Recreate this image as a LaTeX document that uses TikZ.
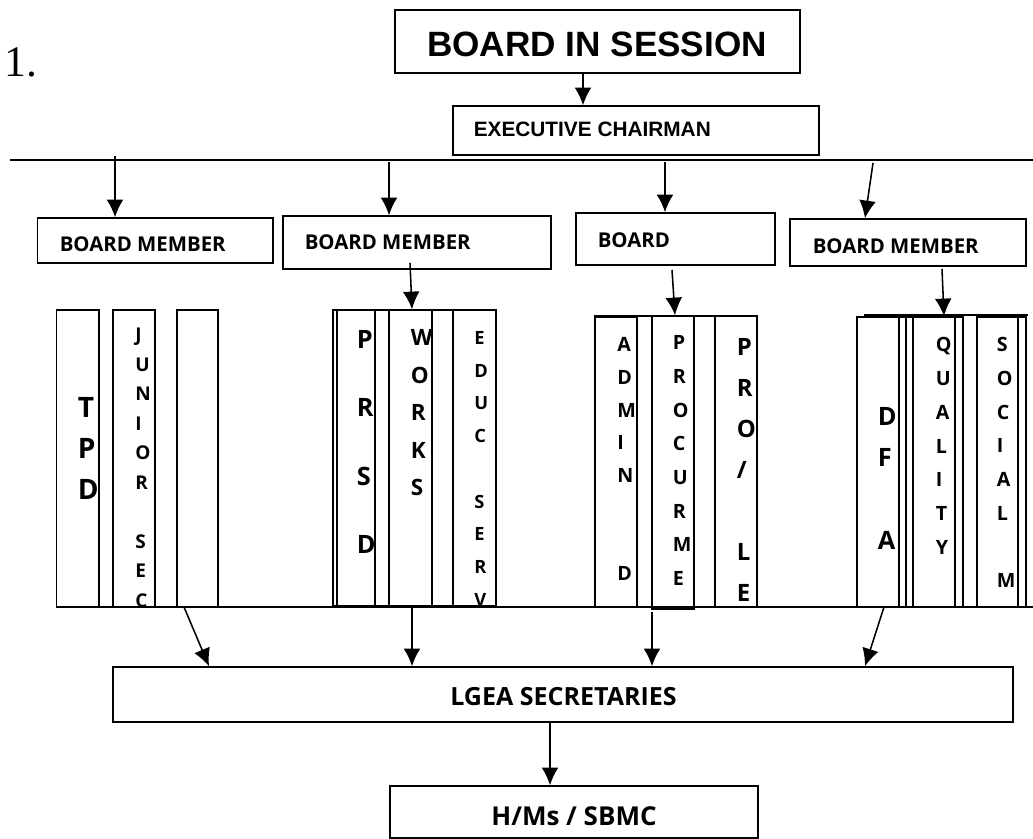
\documentclass[tikz,border=0pt]{standalone}
\usepackage{fontspec}
\setmainfont{Open Sans}
\newfontfamily\arialfont{Liberation Sans}
\newfontfamily\timesfont{Liberation Serif}
\usepackage{tikz}
\usetikzlibrary{arrows.meta,calc,fit}

\begin{document}
\begin{tikzpicture}[x=0.025cm, y=-0.025cm, line width=1.1pt,
    box/.style={draw, rectangle, inner sep=0pt},
    freccia/.style={-{Latex[length=0.44cm, width=0.42cm]}},
    testo/.style={anchor=base west, inner sep=0pt, font=\bfseries\fontsize{14.5}{14.5}\selectfont},
    lettera/.style={anchor=base west, inner sep=0pt, font=\bfseries\fontsize{#1}{#1}\selectfont}]

    \useasboundingbox (0,0) rectangle (1033,839);

    \node[anchor=base west, inner sep=0pt, font=\timesfont\fontsize{31}{31}\selectfont] (num) at (4,77) {1.};

    \node[box, fit={(395,10) (800,73)}] (bis) {};
    \node[anchor=base, inner sep=0pt, font=\arialfont\bfseries\fontsize{25}{25}\selectfont] (bis-t) at (597,57) {BOARD IN SESSION};
    \node[box, fit={(453,106) (819,155)}] (exe) {};
    \node[anchor=base west, inner sep=0pt, font=\arialfont\bfseries\fontsize{14.8}{14.8}\selectfont] (exe-t) at (473,137) {EXECUTIVE CHAIRMAN};

    \coordinate (c0) at (583,0);
    \draw[freccia] (c0 |- bis.south) -- (c0 |- exe.north);

    % linea dei membri
    \coordinate (l0) at (10,160);
    \coordinate (l1) at (1033,160);
    \draw (l0) -- (l1);

    \node[box, fit={(37.5,218) (273,263)}] (bm1) {};
    \node[testo] (bm1-t) at (59,252) {BOARD MEMBER};
    \node[box, fit={(283,216) (551,269)}] (bm2) {};
    \node[testo] (bm2-t) at (304,250) {BOARD MEMBER};
    \node[box, fit={(576,213) (775,265)}] (bm3) {};
    \node[testo] (bm3-t) at (597,248) {BOARD};
    \node[box, fit={(790,219) (1026,266)}] (bm4) {};
    \node[testo] (bm4-t) at (812,254) {BOARD MEMBER};

    \coordinate (t1) at (115,156);
    \coordinate (t2) at (389,162);
    \coordinate (t3) at (665,162);
    \coordinate (t4) at (873,163);
    \coordinate (h4) at (865,0);
    \draw[freccia] (t1) -- (t1 |- bm1.north);
    \draw[freccia] (t2) -- (t2 |- bm2.north);
    \draw[freccia] (t3) -- (t3 |- bm3.north);
    \draw[freccia] (t4) -- (h4 |- bm4.north);

    % colonne
    \node[box, fit={(56.7,310) (99,607)}] (tpd) {};
    \node[box, fit={(113,310) (155,607)}] (jun) {};
    \node[box, fit={(177,310) (218,607)}] (vuota) {};

    \draw (333,310) rectangle (496,606);
    \node[box, fit={(337,310) (375,606)}] (prsd) {};
    \node[box, fit={(389,310) (432,606)}] (works) {};
    \node[box, fit={(453,310) (496,606)}] (edu) {};

    \draw (595,316) rectangle (757,607);
    \node[box, fit={(595,317) (637,607)}] (adm) {};
    \node[box, fit={(652,316) (694,609)}] (proc) {};
    \node[box, fit={(715,316) (757,607)}] (prole) {};

    \draw (864,315) -- (1028,315);
    \node[box, fit={(857,317) (899,607)}] (dfa) {};
    \draw (899,317) rectangle (906,607);
    \draw (906,317) rectangle (913,607);
    \node[box, fit={(913,317) (955,607)}] (qual) {};
    \draw (955,317) rectangle (963,607);
    \node[box, fit={(977,317) (1018,607)}] (soc) {};
    \draw (1018,317) rectangle (1026,607);

    \foreach \l [count=\i from 0] in {T,P,D}
        \node[lettera=20] (tpd-\i) at (77,{408+41*\i+10}) {\l};
    \begin{scope}
        \clip (113,310) rectangle (155,607);
        \foreach \l [count=\i from 0] in {J,U,N,I,O,R,{},S,E,C}
            \node[lettera=13.5] (jun-\i) at (134.5,{335+29.5*\i+6.75}) {\l};
    \end{scope}
    \foreach \l [count=\i from 0] in {P,R,S,D}
        \node[lettera=18] (prsd-\i) at (356,{340+68*\i+9}) {\l};
    \foreach \l [count=\i from 0] in {W,O,R,K,S}
        \node[lettera=16] (works-\i) at (410,{338+37.5*\i+8}) {\l};
    \begin{scope}
        \clip (453,310) rectangle (496,606);
        \foreach \l [count=\i from 0] in {E,D,U,C,{},S,E,R,V}
            \node[lettera=13] (edu-\i) at (473.5,{338+32.7*\i+6.5}) {\l};
    \end{scope}
    \foreach \l [count=\i from 0] in {A,D,M,I,N,{},{},D}
        \node[lettera=14] (adm-\i) at (616.5,{345+32.6*\i+7}) {\l};
    \foreach \l [count=\i from 0] in {P,R,O,C,U,R,M,E}
        \node[lettera=14] (proc-\i) at (672,{343+33.6*\i+7}) {\l};
    \foreach \l [count=\i from 0] in {P,R,O,/,{},L,E}
        \node[lettera=17] (prole-\i) at (736,{347+41*\i+8.5}) {\l};
    \foreach \l [count=\i from 0] in {D,F,{},A}
        \node[lettera=18] (dfa-\i) at (877,{417+41*\i+9}) {\l};
    \foreach \l [count=\i from 0] in {Q,U,A,L,I,T,Y}
        \node[lettera=14] (qual-\i) at (935,{345+33.7*\i+7}) {\l};
    \foreach \l [count=\i from 0] in {S,O,C,I,A,L,{},M}
        \node[lettera=14] (soc-\i) at (996,{345+33.6*\i+7}) {\l};

    \coordinate (m2) at (410,263);
    \coordinate (k2) at (412,0);
    \coordinate (m3) at (672,270);
    \coordinate (k3) at (675,0);
    \coordinate (m4) at (942,269);
    \coordinate (k4) at (944,0);
    \draw[freccia] (m2) -- (k2 |- works.north);
    \draw[freccia] (m3) -- (k3 |- proc.north);
    \draw[freccia] (m4) -- (k4 |- qual.north);

    % linea in basso e segretari
    \coordinate (b0) at (56,607);
    \coordinate (b1) at (1033,607);
    \draw (b0) -- (b1);

    \node[box, fit={(113,667) (1013,722)}] (lgea) {};
    \node[anchor=base, inner sep=0pt, font=\bfseries\fontsize{17.8}{17.8}\selectfont] (lgea-t) at (563.5,705) {LGEA SECRETARIES};
    \node[box, fit={(390,786) (758,838)}] (hms) {};
    \node[anchor=base, inner sep=0pt, font=\bfseries\fontsize{18.5}{18.5}\selectfont] (hms-t) at (574,825) {H/Ms / SBMC};

    \coordinate (s1) at (184,607);
    \coordinate (e1) at (209,0);
    \coordinate (s2) at (412,607);
    \coordinate (s3) at (652,612);
    \coordinate (s4) at (884,607);
    \coordinate (e4) at (865,0);
    \draw[freccia] (s1) -- (e1 |- lgea.north);
    \draw[freccia] (s2) -- (s2 |- lgea.north);
    \draw[freccia] (s3) -- (s3 |- lgea.north);
    \draw[freccia] (s4) -- (e4 |- lgea.north);

    \coordinate (c5) at (550,0);
    \draw[freccia] (c5 |- lgea.south) -- (c5 |- hms.north);

\end{tikzpicture}
\end{document}
